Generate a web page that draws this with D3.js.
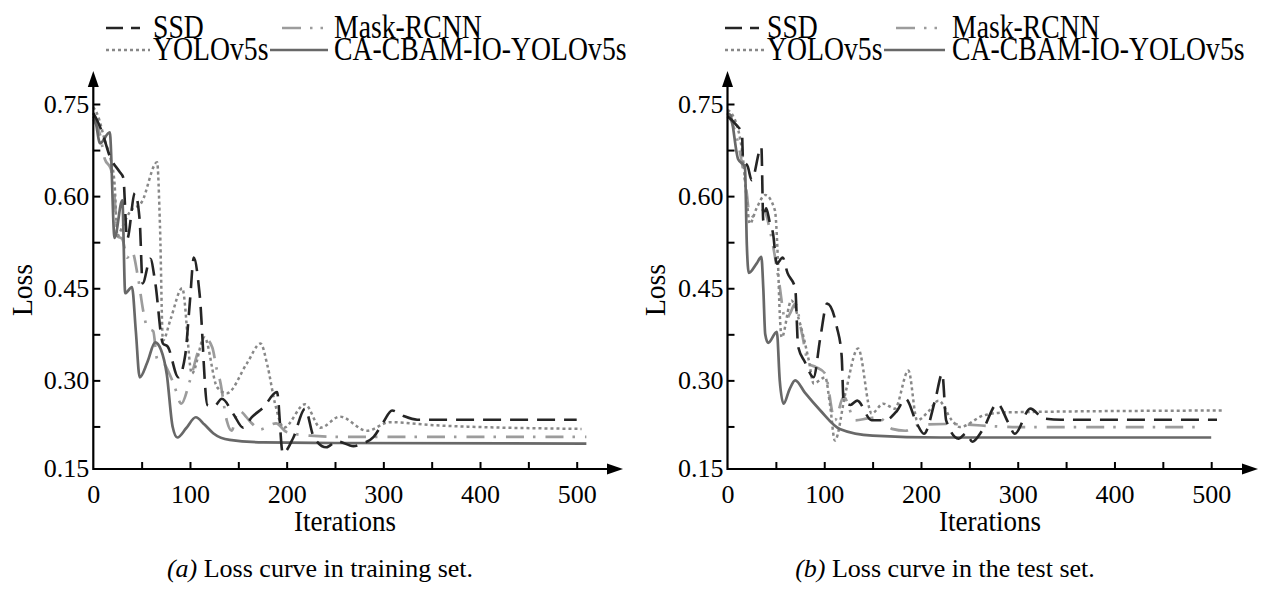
<!DOCTYPE html>
<html><head><meta charset="utf-8">
<script src="https://cdn.jsdelivr.net/npm/d3@7"></script>
<style>
body{margin:0;background:#fff}
svg{display:block}
text{font-family:"Liberation Serif","Times New Roman",serif;fill:#000}
</style>
</head><body>
<svg id="chart" width="1266" height="590"></svg>
<script>
// ---------- data ----------
const seriesNames = ["SSD", "Mask-RCNN", "YOLOv5s", "CA-CBAM-IO-YOLOv5s"];
const xTickValues = [0, 50, 100, 150, 200, 250, 300, 350, 400, 450, 500];
const xLabelValues = [0, 100, 200, 300, 400, 500];
const yTickValues = [0.15, 0.225, 0.30, 0.375, 0.45, 0.525, 0.60, 0.675, 0.75];
const yLabelValues = [0.15, 0.30, 0.45, 0.60, 0.75];
const xTitle = "Iterations";
const yTitle = "Loss";
const captionPrefixes = ["(a)", "(b)"];
const captionTexts = [" Loss curve in training set.", " Loss curve in the test set."];

// training set
const trainSSDIter = [0,5,10,17,27,31,35,43,48,51,59,64,72,77,88,95,100,104,110,118,125,133,145,155,164,176,190,196,207,219,228,241,252,269,278,290,300,309,321,335,420,500];
const trainSSDLoss = [0.735,0.72,0.70,0.665,0.64,0.63,0.53,0.605,0.56,0.458,0.498,0.46,0.36,0.355,0.305,0.34,0.43,0.50,0.44,0.26,0.258,0.27,0.245,0.223,0.24,0.256,0.281,0.181,0.207,0.254,0.208,0.191,0.201,0.193,0.197,0.208,0.232,0.251,0.242,0.236,0.236,0.236];
const trainMaskIter = [0,7,12,18,22,25,30,35,40,46,52,56,62,66,72,83,91,100,110,116,123,128,131,138,143,150,164,172,189,200,224,260,510];
const trainMaskLoss = [0.725,0.70,0.66,0.645,0.60,0.535,0.53,0.50,0.51,0.47,0.41,0.385,0.38,0.335,0.33,0.295,0.262,0.30,0.354,0.368,0.354,0.316,0.30,0.235,0.218,0.251,0.23,0.22,0.23,0.216,0.21,0.208,0.208];
const trainYoloIter = [0,5,12,18,22,25,30,38,50,66,69,72,80,92,102,115,128,138,159,173,180,188,197,219,235,255,283,307,352,505];
const trainYoloLoss = [0.745,0.73,0.69,0.66,0.62,0.535,0.55,0.575,0.59,0.655,0.55,0.365,0.40,0.45,0.311,0.37,0.289,0.279,0.328,0.36,0.325,0.262,0.223,0.261,0.223,0.241,0.218,0.232,0.227,0.221];
const trainOursIter = [0,2,7,17,22,30,33,40,44,48,56,64,70,76,82,87,96,106,115,124,141,176,250,510];
const trainOursLoss = [0.73,0.724,0.686,0.704,0.532,0.593,0.442,0.452,0.38,0.305,0.33,0.362,0.35,0.31,0.225,0.207,0.222,0.24,0.228,0.214,0.203,0.199,0.198,0.197];

// test set
const testSSDIter = [0,9,15,16,21,25,35,37,40,44,47,51,57,62,70,73,80,89,96,103,113,118,120,127,134,149,163,175,184,196,203,215,222,226,239,247,253,264,279,290,297,313,327,345,506];
const testSSDLoss = [0.73,0.716,0.702,0.66,0.648,0.626,0.68,0.56,0.58,0.555,0.54,0.49,0.50,0.475,0.45,0.355,0.33,0.305,0.37,0.425,0.387,0.34,0.267,0.26,0.267,0.235,0.235,0.25,0.27,0.229,0.213,0.27,0.311,0.235,0.205,0.214,0.2,0.22,0.262,0.232,0.213,0.254,0.238,0.236,0.236];
const testMaskIter = [0,11,15,20,22,28,37,46,53,60,65,70,77,84,91,101,111,120,132,145,156,170,184,197,225,300,492];
const testMaskLoss = [0.735,0.686,0.653,0.604,0.577,0.566,0.577,0.528,0.463,0.398,0.41,0.425,0.376,0.327,0.322,0.311,0.235,0.273,0.235,0.238,0.24,0.221,0.218,0.227,0.229,0.224,0.224];
const testYoloIter = [0,4,15,20,23,30,39,49,52,54,56,66,73,84,89,101,106,111,122,135,149,161,173,187,196,208,218,232,240,265,289,511];
const testYoloLoss = [0.74,0.735,0.675,0.593,0.555,0.58,0.602,0.577,0.50,0.409,0.37,0.43,0.403,0.333,0.295,0.305,0.26,0.202,0.28,0.352,0.246,0.262,0.254,0.316,0.235,0.25,0.267,0.235,0.224,0.243,0.248,0.251];
const testOursIter = [0,3,11,18,20,22,30,35,37,39,42,51,54,58,64,70,80,96,116,150,220,500];
const testOursLoss = [0.735,0.732,0.66,0.648,0.52,0.475,0.49,0.501,0.45,0.375,0.361,0.379,0.30,0.262,0.285,0.30,0.28,0.251,0.221,0.21,0.207,0.207];

// ---------- styles ----------
const seriesStyle = [
  {color: "#252525", width: 2.6, dash: "18,9", legendDash: "17,8,9,100"},
  {color: "#9c9c9c", width: 2.7, dash: "18,9,2.5,10", legendDash: "19,9,2.5,8,2.5,100"},
  {color: "#888888", width: 2.5, dash: "3,3", legendDash: "3,3"},
  {color: "#686868", width: 2.7, dash: null, legendDash: null}
];
const drawOrder = [1, 2, 3, 0];

const panels = [
  {series: [[trainSSDIter, trainSSDLoss], [trainMaskIter, trainMaskLoss], [trainYoloIter, trainYoloLoss], [trainOursIter, trainOursLoss]],
   xRange: [93.3, 576.7], arrowX: 623, titleX: 345, captionX: 320, yTitleX: 32,
   legend: {c1s: 106, c1e: 150, c1t: 153, c2s: 270, c2e: 328, c2t: 334}},
  {series: [[testSSDIter, testSSDLoss], [testMaskIter, testMaskLoss], [testYoloIter, testYoloLoss], [testOursIter, testOursLoss]],
   xRange: [727.5, 1211.2], arrowX: 1258, titleX: 990, captionX: 945, yTitleX: 665,
   legend: {c1s: 725, c1e: 764, c1t: 767, c2s: 884, c2e: 945, c2t: 952}}
];

const AXIS_Y = 469, AXIS_TOP = 71;
const svg = d3.select("#chart");

panels.forEach((p, pi) => {
  const x = d3.scaleLinear().domain([0, 500]).range(p.xRange);
  const y = d3.scaleLinear().domain([0.15, 0.75]).range([472.5, 104]);
  const g = svg.append("g");
  const x0 = p.xRange[0];

  // curves
  const line = d3.line().x(d => x(d[0])).y(d => y(d[1])).curve(d3.curveMonotoneX);
  drawOrder.forEach(si => {
    const [it, ls] = p.series[si];
    const pts = it.map((v, i) => [v, ls[i]]);
    const st = seriesStyle[si];
    g.append("path").datum(pts).attr("d", line)
      .attr("fill", "none").attr("stroke", st.color).attr("stroke-width", st.width)
      .attr("stroke-dasharray", st.dash).attr("stroke-linejoin", "round");
  });

  // x axis ticks + labels
  const xa = g.append("g").attr("transform", `translate(0,${AXIS_Y})`)
    .call(d3.axisBottom(x).tickValues(xTickValues).tickSizeInner(-7).tickSizeOuter(0).tickPadding(16)
      .tickFormat(d => xLabelValues.includes(d) ? d3.format("d")(d) : ""));
  xa.select(".domain").remove();
  xa.selectAll("line").attr("stroke", "#000").attr("stroke-width", 2);
  xa.selectAll("text").attr("font-family", "Liberation Serif").attr("font-size", 26).attr("fill", "#000");
  xa.selectAll(".tick").filter(d => d === 0).select("line").remove();

  // y axis ticks + labels
  const ya = g.append("g").attr("transform", `translate(${x0},0)`)
    .call(d3.axisLeft(y).tickValues(yTickValues).tickSizeInner(-7).tickSizeOuter(0).tickPadding(4)
      .tickFormat(d => yLabelValues.some(v => Math.abs(v - d) < 1e-9) ? d3.format(".2f")(d) : ""));
  ya.select(".domain").remove();
  ya.selectAll("line").attr("stroke", "#000").attr("stroke-width", 2);
  ya.selectAll("text").attr("font-family", "Liberation Serif").attr("font-size", 26).attr("fill", "#000");
  const bottomTick = ya.selectAll(".tick").filter(d => Math.abs(d - 0.15) < 1e-9);
  bottomTick.select("line").remove();
  bottomTick.select("text").attr("y", -4);

  // axis lines with arrows
  g.append("line").attr("x1", x0).attr("x2", p.arrowX - 10).attr("y1", AXIS_Y).attr("y2", AXIS_Y)
    .attr("stroke", "#000").attr("stroke-width", 2.2);
  g.append("line").attr("x1", x0).attr("x2", x0).attr("y1", AXIS_Y + 1).attr("y2", AXIS_TOP + 10)
    .attr("stroke", "#000").attr("stroke-width", 2.2);
  g.append("path").attr("d", `M${p.arrowX},${AXIS_Y} L${p.arrowX - 16},${AXIS_Y - 5.5} L${p.arrowX - 16},${AXIS_Y + 5.5} Z`).attr("fill", "#000");
  g.append("path").attr("d", `M${x0},${AXIS_TOP} L${x0 - 5.5},${AXIS_TOP + 16} L${x0 + 5.5},${AXIS_TOP + 16} Z`).attr("fill", "#000");

  // titles
  g.append("text").attr("transform", `translate(${p.titleX},531) scale(0.9,1)`).attr("text-anchor", "middle")
    .attr("font-size", 30).text(xTitle);
  g.append("text").attr("transform", `translate(${p.yTitleX},290) rotate(-90) scale(0.92,1)`).attr("text-anchor", "middle")
    .attr("font-size", 30).text(yTitle);

  // caption
  const cap = g.append("text").attr("x", p.captionX).attr("y", 577).attr("text-anchor", "middle").attr("font-size", 26);
  cap.append("tspan").attr("font-style", "italic").text(captionPrefixes[pi]);
  cap.append("tspan").text(captionTexts[pi]);

  // legend
  const L = p.legend;
  const rows = [38, 60];
  const slots = [
    {si: 0, row: 0, s: L.c1s, e: L.c1e, t: L.c1t},
    {si: 1, row: 0, s: L.c2s + 12, e: L.c2e, t: L.c2t},
    {si: 2, row: 1, s: L.c1s, e: L.c1e, t: L.c1t},
    {si: 3, row: 1, s: L.c2s, e: L.c2e, t: L.c2t}
  ];
  slots.forEach(sl => {
    const st = seriesStyle[sl.si];
    const yy = rows[sl.row];
    g.append("line").attr("x1", sl.s).attr("x2", sl.e).attr("y1", yy - 10).attr("y2", yy - 10)
      .attr("stroke", st.color).attr("stroke-width", st.width).attr("stroke-dasharray", st.legendDash);
    g.append("text").attr("transform", `translate(${sl.t},${yy}) scale(0.84,1)`)
      .attr("font-size", 33).text(seriesNames[sl.si]);
  });
});
</script>
</body></html>
